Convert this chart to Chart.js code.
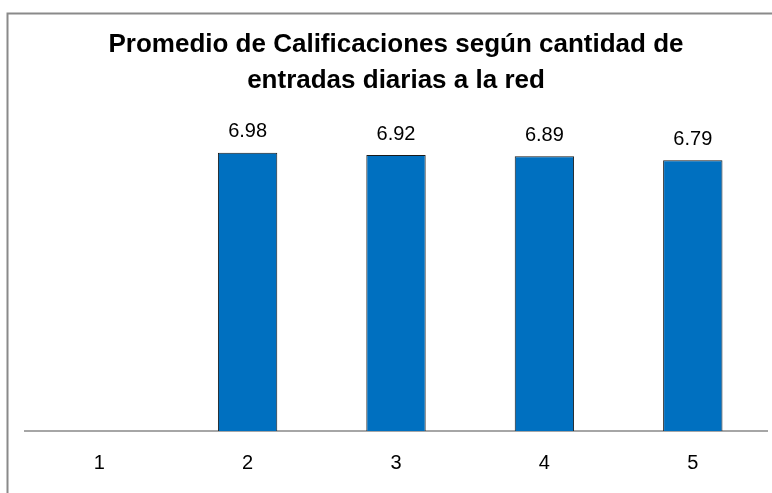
<!DOCTYPE html>
<html>
<head>
<meta charset="utf-8">
<script src="https://cdn.jsdelivr.net/npm/chart.js@4"></script>
<style>
  html, body { margin: 0; padding: 0; background: #fff; }
  #wrap { width: 772px; height: 493px; position: relative; }
</style>
</head>
<body>
<div id="wrap"><canvas id="c" width="772" height="493"></canvas></div>
<script>
const titleLines = ["Promedio de Calificaciones según cantidad de", "entradas diarias a la red"];
const categories = ["1", "2", "3", "4", "5"];
const promedios = [null, 6.98, 6.92, 6.89, 6.79];
const yMin = 0;
const yMax = 8;

const framePlugin = {
  id: 'frame',
  beforeDraw(chart) {
    const ctx = chart.ctx;
    ctx.save();
    ctx.fillStyle = '#ffffff';
    ctx.fillRect(0, 0, chart.width, chart.height);
    ctx.strokeStyle = '#8a8a8a';
    ctx.lineWidth = 2;
    ctx.beginPath();
    ctx.moveTo(7.5, chart.height + 2);
    ctx.lineTo(7.5, 13.5);
    ctx.lineTo(chart.width + 2, 13.5);
    ctx.stroke();
    ctx.restore();
  }
};

const valueLabels = {
  id: 'valueLabels',
  afterDatasetsDraw(chart) {
    const ctx = chart.ctx;
    const meta = chart.getDatasetMeta(0);
    const data = chart.data.datasets[0].data;
    ctx.save();
    ctx.font = '20px "Liberation Sans", Arial, sans-serif';
    ctx.fillStyle = '#000000';
    ctx.textAlign = 'center';
    ctx.textBaseline = 'middle';
    meta.data.forEach((bar, i) => {
      const v = data[i];
      if (v === null || v === undefined) return;
      ctx.fillText(v.toFixed(2), bar.x, bar.y - 21);
    });
    ctx.restore();
  }
};

new Chart(document.getElementById('c'), {
  type: 'bar',
  data: {
    labels: categories,
    datasets: [{
      data: promedios,
      backgroundColor: '#0070C0',
      borderColor: '#1a1a1a',
      borderWidth: 1,
      borderSkipped: 'bottom',
      barPercentage: 0.40,
      categoryPercentage: 1.0
    }]
  },
  options: {
    responsive: false,
    animation: false,
    devicePixelRatio: 1,
    layout: { padding: { top: 0, left: 25, right: 5, bottom: 18 } },
    plugins: {
      legend: { display: false },
      tooltip: { enabled: false },
      title: {
        display: true,
        text: titleLines,
        color: '#000000',
        font: { family: '"Liberation Sans", Arial, sans-serif', size: 26, weight: 'bold', lineHeight: 36 / 26 },
        padding: { top: 27, bottom: 13 }
      }
    },
    scales: {
      x: {
        grid: { display: false, drawTicks: false },
        border: { display: true, color: '#a6a6a6', width: 2 },
        ticks: {
          color: '#000000',
          padding: 20,
          maxRotation: 0,
          font: { family: '"Liberation Sans", Arial, sans-serif', size: 20 }
        },
        afterFit(scale) { scale.height = 44; }
      },
      y: {
        display: false,
        min: yMin,
        max: yMax
      }
    }
  },
  plugins: [framePlugin, valueLabels]
});
</script>
</body>
</html>
